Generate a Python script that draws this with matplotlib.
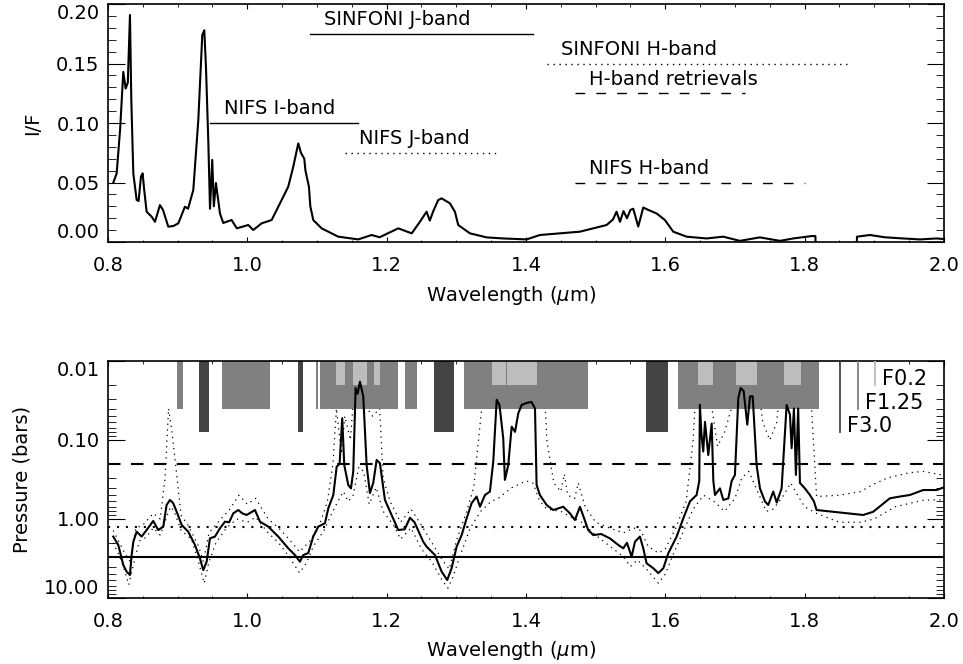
import numpy as np
import matplotlib
matplotlib.use('Agg')
import matplotlib.pyplot as plt
from matplotlib.ticker import MultipleLocator, FixedLocator, LogLocator, NullFormatter

# ---- top panel: I/F spectrum ----
spec_wl = [0.8076, 0.8125, 0.8175, 0.822, 0.8254, 0.8285, 0.8316, 0.8335, 0.8364, 0.8412,
           0.844, 0.8474, 0.8498, 0.852, 0.8555, 0.8627, 0.8675, 0.8746, 0.879, 0.8866,
           0.894, 0.901, 0.9105, 0.915, 0.9225, 0.9297, 0.9354, 0.9383, 0.9407, 0.944,
           0.9465, 0.9497, 0.952, 0.955, 0.9608, 0.9655, 0.9775, 0.985, 1.0014, 1.0086,
           1.0206, 1.035, 1.0493, 1.0588, 1.066, 1.0732, 1.077, 1.0818, 1.0835, 1.0885,
           1.0905, 1.0947, 1.1067, 1.1306, 1.1593, 1.1785, 1.19, 1.2167, 1.236, 1.2478,
           1.2574, 1.262, 1.267, 1.2741, 1.279, 1.2909, 1.298, 1.3028, 1.3196, 1.3436,
           1.3674, 1.401, 1.42, 1.4488, 1.4775, 1.4966, 1.5158, 1.525, 1.530, 1.535,
           1.540, 1.545, 1.550, 1.554, 1.5612, 1.5684, 1.5756, 1.5876, 1.5995, 1.6114,
           1.6306, 1.6593, 1.6832, 1.7071, 1.7358, 1.7646, 1.7837, 1.81, 1.8155, 1.8157,
           np.nan, 1.875, 1.8752, 1.8937, 1.915, 1.9415, 1.9655, 1.9894, 2.0]
spec_if = [0.0498, 0.0577, 0.095, 0.143, 0.129, 0.134, 0.1908, 0.120, 0.0577, 0.0353,
           0.0345, 0.055, 0.0577, 0.044, 0.0255, 0.0213, 0.017, 0.031, 0.027, 0.0129,
           0.0135, 0.0157, 0.0297, 0.028, 0.0437, 0.1025, 0.174, 0.178, 0.147, 0.0857,
           0.028, 0.069, 0.030, 0.0496, 0.024, 0.016, 0.0185, 0.0115, 0.0143, 0.0101,
           0.0157, 0.0185, 0.0353, 0.0465, 0.0633, 0.0829, 0.075, 0.070, 0.060, 0.0465,
           0.030, 0.0185, 0.0115, 0.0045, 0.0022, 0.0059, 0.004, 0.0115, 0.0073, 0.017,
           0.0255, 0.018, 0.026, 0.0353, 0.0367, 0.0325, 0.0255, 0.0143, 0.0073, 0.0039,
           0.003, 0.0022, 0.0059, 0.0073, 0.0087, 0.0115, 0.0143, 0.019, 0.0255, 0.017,
           0.026, 0.020, 0.027, 0.028, 0.013, 0.029, 0.027, 0.024, 0.0185, 0.0087,
           0.0045, 0.003, 0.0045, 0.001, 0.0039, 0.001, 0.003, 0.005, 0.005, 0.0,
           np.nan, 0.0, 0.0045, 0.0059, 0.004, 0.003, 0.0022, 0.003, 0.0025]

# instrument bands marked in the top panel
band_names = ['SINFONI J-band', 'SINFONI H-band', 'H-band retrievals',
              'NIFS I-band', 'NIFS J-band', 'NIFS H-band']
band_start = [1.09, 1.43, 1.47, 0.946, 1.14, 1.47]
band_end = [1.41, 1.865, 1.714, 1.159, 1.358, 1.80]
band_level = [0.175, 0.15, 0.125, 0.10, 0.075, 0.05]

# ---- bottom panel: cloud-top pressure ----
p_wl = [0.8076, 0.8148, 0.822, 0.8268, 0.8316, 0.834, 0.8364, 0.8412, 0.8484, 0.8555,
        0.865, 0.8722, 0.8794, 0.8842, 0.889, 0.8937, 0.8986, 0.9058, 0.9153, 0.9249,
        0.932, 0.9368, 0.9417, 0.9464, 0.9536, 0.9608, 0.968, 0.974, 0.9799, 0.987,
        0.993, 0.9991, 1.011, 1.0182, 1.0301, 1.0445, 1.0588, 1.0684, 1.0756, 1.0803,
        1.0875, 1.0947, 1.1019, 1.1115, 1.1163, 1.1235, 1.1283, 1.1325, 1.1363, 1.1392,
        1.145, 1.1488, 1.1521, 1.1555, 1.1584, 1.1617, 1.1665, 1.1713, 1.176, 1.1808,
        1.1857, 1.1904, 1.1976, 1.2072, 1.2167, 1.226, 1.2335, 1.240, 1.2526, 1.2574,
        1.2694, 1.279, 1.287, 1.2933, 1.3005, 1.3077, 1.3149, 1.322, 1.3292, 1.334,
        1.3412, 1.3483, 1.3531, 1.358, 1.362, 1.3674, 1.3698, 1.3746, 1.3795, 1.3843,
        1.389, 1.3938, 1.401, 1.408, 1.413, 1.4153, 1.42, 1.4297, 1.4392, 1.4536,
        1.4631, 1.4703, 1.4775, 1.482, 1.4894, 1.4966, 1.508, 1.5205, 1.5325, 1.5397,
        1.545, 1.5517, 1.5565, 1.5636, 1.5684, 1.5732, 1.5828, 1.59, 1.5972, 1.6043,
        1.6163, 1.6259, 1.6354, 1.645, 1.6488, 1.6497, 1.652, 1.6545, 1.657, 1.6617,
        1.6666, 1.669, 1.6713, 1.6785, 1.6833, 1.6905, 1.6953, 1.70, 1.7048, 1.7082,
        1.7125, 1.7177, 1.7216, 1.7255, 1.7311, 1.7359, 1.7431, 1.7478, 1.755, 1.760,
        1.767, 1.7742, 1.779, 1.7814, 1.7847, 1.7875, 1.7908, 1.7933, 1.8004, 1.8076,
        1.8134, 1.8172, 1.8841, 1.8985, 1.9224, 1.9368, 1.9512, 1.9703, 1.9895, 1.999]
p_best = [1.67, 2.13, 3.82, 4.64, 5.12, 2.86, 1.94, 1.45, 1.67, 1.38,
          1.06, 1.38, 1.25, 0.665, 0.574, 0.632, 0.807, 1.19, 1.45, 2.13,
          3.14, 4.43, 3.47, 1.76, 1.67, 1.31, 1.08, 1.1, 0.848, 0.77,
          0.85, 0.89, 0.77, 1.08, 1.25, 1.67, 2.35, 2.86, 3.47, 2.86,
          2.7, 1.67, 1.25, 1.13, 0.733, 0.497, 0.218, 0.2, 0.053, 0.208,
          0.372, 0.41, 0.252, 0.022, 0.026, 0.0183, 0.028, 0.208, 0.47, 0.35,
          0.179, 0.197, 0.574, 0.89, 1.38, 1.35, 0.964, 1.1, 1.94, 2.24,
          2.86, 4.64, 5.92, 4.2, 2.24, 1.6, 0.98, 0.632, 0.52, 0.7,
          0.497, 0.45, 0.188, 0.031, 0.036, 0.095, 0.32, 0.208, 0.068, 0.079,
          0.046, 0.036, 0.034, 0.033, 0.040, 0.372, 0.497, 0.665, 0.77, 0.7,
          0.848, 1.03, 0.7, 0.9, 1.38, 1.6, 1.55, 1.76, 2.13, 2.35,
          2.0, 3.0, 1.94, 1.67, 2.35, 3.64, 4.2, 4.84, 4.2, 2.72,
          1.67, 0.98, 0.6, 0.497, 0.33, 0.036, 0.086, 0.14, 0.059, 0.155,
          0.062, 0.33, 0.497, 0.41, 0.574, 0.55, 0.33, 0.277, 0.0297, 0.022,
          0.024, 0.064, 0.028, 0.028, 0.208, 0.41, 0.6, 0.665, 0.45, 0.62,
          0.41, 0.036, 0.048, 0.127, 0.040, 0.277, 0.04, 0.35, 0.41, 0.497,
          0.6, 0.77, 0.89, 0.81, 0.547, 0.52, 0.497, 0.43, 0.43, 0.40]

up_wl = [0.8076, 0.822, 0.832, 0.84, 0.85, 0.865, 0.875, 0.882, 0.887, 0.892,
         0.897, 0.905, 0.915, 0.93, 0.937, 0.945, 0.96, 0.975, 0.988, 1.0,
         1.012, 1.03, 1.045, 1.06, 1.075, 1.09, 1.105, 1.115, 1.123, 1.128,
         1.135, 1.14, 1.148, 1.155, 1.165, 1.172, 1.18, 1.19, 1.195, 1.205,
         1.22, 1.235, 1.25, 1.265, 1.28, 1.29, 1.30, 1.315, 1.325, 1.333,
         1.34, 1.36, 1.425, 1.43, 1.44, 1.45, 1.455, 1.46, 1.47, 1.475,
         1.485, 1.50, 1.52, 1.54, 1.555, 1.565, 1.575, 1.59, 1.60, 1.615,
         1.63, 1.64, 1.645, 1.665, 1.675, 1.685, 1.695, 1.70, 1.73, 1.74,
         1.75, 1.76, 1.765, 1.80, 1.81, 1.8172, 1.85, 1.88, 1.90, 1.92,
         1.95, 1.97, 2.0]
p_up = [1.4, 2.5, 3.5, 1.3, 1.2, 0.85, 1.0, 0.3, 0.04, 0.08,
        0.2, 0.9, 1.2, 2.2, 3.5, 1.5, 1.05, 0.75, 0.5, 0.65,
        0.55, 1.0, 1.3, 1.8, 2.6, 1.9, 1.1, 0.6, 0.2, 0.04,
        0.15, 0.05, 0.1, 0.015, 0.012, 0.04, 0.05, 0.04, 0.3, 0.6,
        1.1, 0.75, 1.2, 2.0, 3.3, 4.3, 1.9, 0.8, 0.4, 0.08,
        0.02, 0.012, 0.012, 0.1, 0.35, 0.45, 0.27, 0.5, 0.55, 0.35,
        0.7, 1.1, 1.3, 1.5, 1.3, 1.4, 2.2, 2.7, 2.4, 1.3,
        0.6, 0.1, 0.015, 0.03, 0.12, 0.08, 0.04, 0.012, 0.012, 0.06,
        0.1, 0.06, 0.02, 0.015, 0.04, 0.52, 0.5, 0.45, 0.36, 0.3,
        0.26, 0.25, 0.28]

lo_wl = [0.8076, 0.82, 0.83, 0.836, 0.845, 0.855, 0.865, 0.875, 0.885, 0.89,
         0.895, 0.905, 0.92, 0.93, 0.938, 0.945, 0.955, 0.97, 0.985, 1.0,
         1.012, 1.03, 1.045, 1.06, 1.075, 1.085, 1.095, 1.11, 1.12, 1.13,
         1.138, 1.145, 1.152, 1.16, 1.167, 1.175, 1.185, 1.195, 1.21, 1.22,
         1.235, 1.25, 1.265, 1.28, 1.288, 1.295, 1.305, 1.32, 1.335, 1.35,
         1.36, 1.38, 1.40, 1.41, 1.42, 1.43, 1.45, 1.465, 1.48, 1.50,
         1.52, 1.54, 1.55, 1.56, 1.575, 1.59, 1.60, 1.61, 1.625, 1.64,
         1.655, 1.67, 1.685, 1.70, 1.71, 1.72, 1.73, 1.745, 1.755, 1.77,
         1.78, 1.79, 1.80, 1.8172, 1.85, 1.88, 1.90, 1.93, 1.97, 2.0]
p_lo = [2.0, 3.5, 6.8, 4.0, 1.9, 1.7, 1.3, 1.6, 0.9, 0.7,
        0.8, 1.4, 1.8, 3.5, 6.5, 3.5, 2.0, 1.3, 1.0, 1.1,
        0.95, 1.5, 2.0, 3.0, 4.8, 3.6, 2.2, 1.4, 0.9, 0.6,
        0.45, 0.6, 0.5, 0.22, 0.25, 0.65, 0.4, 0.8, 1.2, 1.8,
        1.3, 2.4, 3.5, 6.0, 7.5, 5.5, 3.0, 1.3, 0.8, 0.6,
        0.55, 0.4, 0.33, 0.35, 0.6, 0.75, 0.8, 0.95, 1.1, 1.6,
        2.2, 3.0, 4.0, 3.3, 4.5, 6.5, 5.0, 3.0, 1.5, 0.75,
        0.5, 0.6, 0.8, 0.55, 0.3, 0.25, 0.4, 0.8, 0.75, 0.5,
        0.35, 0.5, 0.7, 0.85, 1.1, 1.1, 1.0, 0.7, 0.58, 0.57]

# wavelength windows shown as grey blocks, per filter
box_start = [0.8995, 0.931, 0.9632, 1.0732, 1.0986, 1.1045, 1.2263, 1.2679, 1.311,
             1.5722, 1.6186, 1.1273, 1.1521, 1.1822, 1.3516, 1.3732, 1.6473, 1.7014,
             1.7707]
box_end = [0.9081, 0.945, 1.0325, 1.0803, 1.101, 1.2158, 1.243, 1.2966, 1.4885,
           1.6038, 1.8205, 1.1402, 1.1722, 1.1904, 1.3713, 1.4153, 1.6688, 1.7311,
           1.7947]
box_filter = ['F1.25', 'F3.0', 'F1.25', 'F3.0', 'F1.25', 'F1.25', 'F1.25', 'F3.0', 'F1.25',
              'F3.0', 'F1.25', 'F0.2', 'F0.2', 'F0.2', 'F0.2', 'F0.2', 'F0.2', 'F0.2',
              'F0.2']
filter_names = ['F0.2', 'F1.25', 'F3.0']
filter_p = [0.2, 1.25, 3.0]          # reference pressure levels (bars)
filter_depth = [0.02, 0.04, 0.08]    # how far each block reaches down

# styles
band_ls = {'SINFONI J-band': '-', 'SINFONI H-band': ':', 'H-band retrievals': '--',
           'NIFS I-band': '-', 'NIFS J-band': ':', 'NIFS H-band': '--'}
filter_col = {'F0.2': '#bdbdbd', 'F1.25': '#808080', 'F3.0': '#444444'}
filter_ls = {'F0.2': 'dashed', 'F1.25': 'dotted', 'F3.0': 'solid'}

plt.rcParams['font.family'] = 'DejaVu Sans'
plt.rcParams['font.size'] = 14

fig = plt.figure(figsize=(9.63, 6.64), dpi=100)
ax1 = fig.add_axes([0.1121, 0.6355, 0.8681, 0.3584])
ax2 = fig.add_axes([0.1121, 0.0994, 0.8681, 0.3570])

# top panel
ax1.plot(spec_wl, spec_if, color='k', lw=1.5, zorder=3)
for name, x0, x1, lev in zip(band_names, band_start, band_end, band_level):
    ls = band_ls[name]
    kw = {}
    if ls == '--':
        kw['dashes'] = (7, 8)
    elif ls == ':':
        kw['dashes'] = (1, 3.3)
    ax1.plot([x0, x1], [lev, lev], color='k', lw=1.0, ls=ls, **kw)
    ax1.text(x0 + 0.02, lev + 0.004, name, fontsize=14, ha='left', va='bottom')

ax1.set_xlim(0.8, 2.0)
ax1.set_ylim(0.0, 0.2)
ax1.xaxis.set_minor_locator(MultipleLocator(0.05))
ax1.yaxis.set_major_locator(FixedLocator([0.0, 0.05, 0.10, 0.15, 0.20]))
ax1.yaxis.set_minor_locator(MultipleLocator(0.01))
ax1.set_yticklabels(['0.00', '0.05', '0.10', '0.15', '0.20'])
ax1.set_xticks([0.8, 1.0, 1.2, 1.4, 1.6, 1.8, 2.0])
ax1.set_xticklabels(['0.8', '1.0', '1.2', '1.4', '1.6', '1.8', '2.0'])
ax1.set_xlabel('Wavelength ($\\mu$m)')
ax1.set_ylabel('I/F')

# bottom panel
for f, p in zip(filter_names, filter_p):
    kw = {}
    if filter_ls[f] == 'dashed':
        kw['dashes'] = (6, 5)
    elif filter_ls[f] == 'dotted':
        kw['dashes'] = (1, 3.3)
    ax2.axhline(p, color='k', lw=1.5, ls=filter_ls[f], zorder=1, **kw)

ax2.plot(up_wl, p_up, color='k', lw=0.9, ls=':', dashes=(1, 3.5), zorder=1)
ax2.plot(lo_wl, p_lo, color='k', lw=0.9, ls=':', dashes=(1, 3.5), zorder=1)

depth = dict(zip(filter_names, filter_depth))
for x0, x1, f in zip(box_start, box_end, box_filter):
    zo = 2.5 if f == 'F0.2' else 2
    ax2.bar(x0, depth[f] - 0.01, bottom=0.01, width=x1 - x0, align='edge',
            color=filter_col[f], lw=0, zorder=zo)

ax2.plot(p_wl, p_best, color='k', lw=1.5, zorder=3)

# filter key (top right)
for f, x in zip(['F3.0', 'F1.25', 'F0.2'], [1.8507, 1.876, 1.901]):
    ax2.plot([x, x], [0.01, depth[f]], color=filter_col[f], lw=1.3, zorder=3)
    ax2.text(x + 0.01, depth[f], f, fontsize=15, ha='left', va='baseline')

ax2.set_yscale('log')
ax2.set_xlim(0.8, 2.0)
ax2.set_ylim(10.0, 0.01)
ax2.set_xticks([0.8, 1.0, 1.2, 1.4, 1.6, 1.8, 2.0])
ax2.set_xticklabels(['0.8', '1.0', '1.2', '1.4', '1.6', '1.8', '2.0'])
ax2.xaxis.set_minor_locator(MultipleLocator(0.05))
ax2.yaxis.set_major_locator(FixedLocator([0.01, 0.1, 1.0, 10.0]))
ax2.yaxis.set_minor_locator(LogLocator(base=10, subs=np.arange(2, 10)))
ax2.yaxis.set_minor_formatter(NullFormatter())
ax2.set_yticklabels(['0.01', '0.10', '1.00', '10.00'])
ax2.set_xlabel('Wavelength ($\\mu$m)')
ax2.set_ylabel('Pressure (bars)')

for ax in (ax1, ax2):
    ax.tick_params(which='both', direction='in', top=True, right=True, labelsize=14)
    ax.tick_params(axis='x', which='major', length=3.5, pad=10)
    ax.tick_params(axis='x', which='minor', length=1.8)
    ax.tick_params(axis='y', which='major', length=12, pad=6)
    ax.tick_params(axis='y', which='minor', length=6)
    for s in ax.spines.values():
        s.set_linewidth(1.2)
    ax.xaxis.set_label_coords(0.482, -0.175)
    labs = ax.get_yticklabels()
    if ax is ax1:
        labs[0].set_va('bottom')
        labs[-1].set_va('top')
    else:
        labs[0].set_va('top')
        labs[-1].set_va('bottom')

ax1.yaxis.set_label_coords(-0.079, 0.5)
ax2.yaxis.set_label_coords(-0.092, 0.5)

fig.savefig('out.png', dpi=100)
plt.close(fig)
